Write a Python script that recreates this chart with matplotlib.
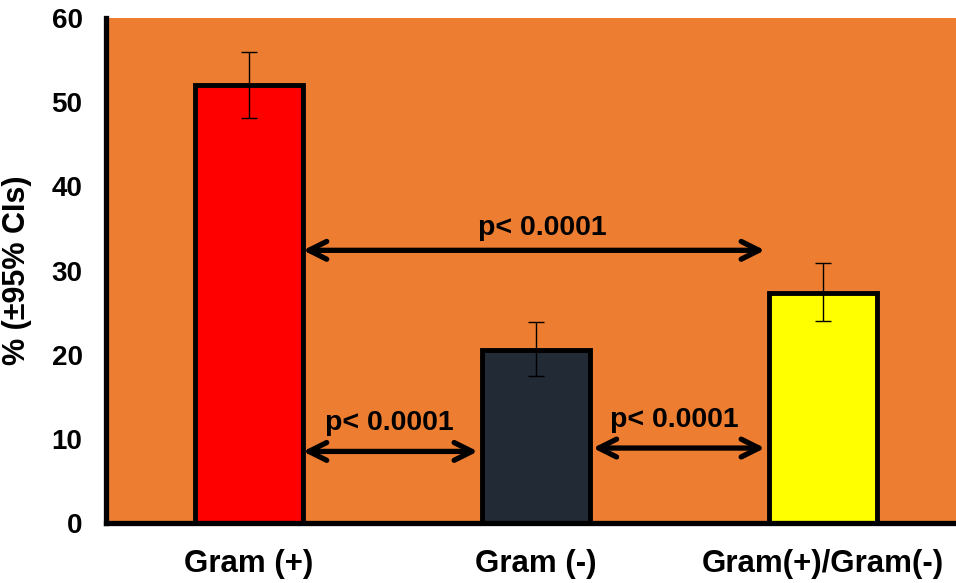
import matplotlib
matplotlib.use('Agg')
import matplotlib.pyplot as plt

plt.rcParams['font.family'] = ['Liberation Sans', 'DejaVu Sans']
plt.rcParams['font.weight'] = 'bold'

categories = ['Gram (+)', 'Gram (-)', 'Gram(+)/Gram(-)']
values = [52.0, 20.5, 27.3]
ci_low = [48.1, 17.5, 24.0]
ci_high = [56.0, 23.9, 30.9]
colors = ['#FF0000', '#222A35', '#FFFF00']
p_labels = ['p< 0.0001', 'p< 0.0001', 'p< 0.0001']

fig = plt.figure(figsize=(9.56, 5.83), dpi=100)
ax = fig.add_axes([0.111, 0.103, 0.889, 0.866])
ax.set_facecolor('#ED7D31')

x = list(range(len(categories)))
w = 0.376
err = [[v - l for v, l in zip(values, ci_low)], [h - v for v, h in zip(values, ci_high)]]
ax.bar(x, values, width=w, color=colors, edgecolor='black', linewidth=3.5, zorder=2)
ax.errorbar(x, values, yerr=err, fmt='none', ecolor='black', elinewidth=1, capsize=6, capthick=1, zorder=3)

arrow = dict(arrowstyle='<->', lw=3.8, color='black', mutation_scale=32, shrinkA=0, shrinkB=0)
h = w / 2
# Gram(+) vs Gram(+)/Gram(-)
ax.annotate('', xy=(x[2] - h - 0.015, 32.4), xytext=(x[0] + h, 32.4), arrowprops=arrow, zorder=4)
ax.text(1.02, 35.0, p_labels[0], ha='center', va='center', fontsize=20.5, fontweight='bold')
# Gram(+) vs Gram(-)
ax.annotate('', xy=(x[1] - h - 0.015, 8.5), xytext=(x[0] + h, 8.5), arrowprops=arrow, zorder=4)
ax.text(0.49, 11.9, p_labels[1], ha='center', va='center', fontsize=20.5, fontweight='bold')
# Gram(-) vs Gram(+)/Gram(-)
ax.annotate('', xy=(x[2] - h - 0.015, 8.9), xytext=(x[1] + h + 0.01, 8.9), arrowprops=arrow, zorder=4)
ax.text(1.48, 12.2, p_labels[2], ha='center', va='center', fontsize=20.5, fontweight='bold')

ax.set_xlim(-0.498, 2.463)
ax.set_ylim(0, 60)
ax.set_yticks(range(0, 61, 10))
ax.set_xticks(x)
ax.set_xticklabels(categories, fontsize=22.5, fontweight='bold')
ax.tick_params(axis='y', labelsize=20, length=0, pad=17)
ax.tick_params(axis='x', length=0, pad=19)
for t in ax.get_yticklabels():
    t.set_fontweight('bold')
ax.set_ylabel('% (±95% CIs)', fontsize=22, fontweight='bold', labelpad=14)

for s in ['top', 'right']:
    ax.spines[s].set_visible(False)
for s in ['left', 'bottom']:
    ax.spines[s].set_linewidth(3.8)
    ax.spines[s].set_zorder(5)

fig.savefig('out.png', dpi=100)
